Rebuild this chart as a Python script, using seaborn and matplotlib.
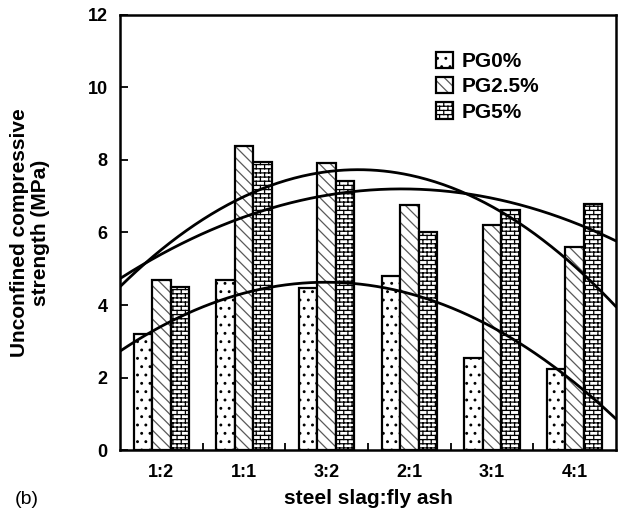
import warnings
import numpy as np
import pandas as pd
import matplotlib
matplotlib.use("Agg")
import matplotlib.pyplot as plt
import matplotlib.hatch as mhatch
from matplotlib.path import Path
from matplotlib.colors import to_rgba
import seaborn as sns

warnings.filterwarnings("ignore")

# ---------------- data ----------------
ratios = ["1:2", "1:1", "3:2", "2:1", "3:1", "4:1"]
series = ["PG0%", "PG2.5%", "PG5%"]
pg0 = [3.19, 4.70, 4.46, 4.81, 2.53, 2.24]
pg25 = [4.70, 8.39, 7.91, 6.76, 6.20, 5.60]
pg5 = [4.49, 7.95, 7.42, 6.01, 6.62, 6.78]
yticks = [0, 2, 4, 6, 8, 10, 12]

# ---------------- brick hatch ----------------
BRICK = "+|"
_orig_get_path = mhatch.get_path


def _brick_path(rows=24, cols=12):
    verts, codes = [], []
    h = 1.0 / rows
    for r in range(rows):
        y0 = (r + 0.5) * h
        verts += [(0.0, y0), (1.0, y0)]
        codes += [Path.MOVETO, Path.LINETO]
        off = 0.5 / cols if r % 2 else 0.0
        for c in range(cols):
            x = c / cols + off + 0.25 / cols
            y1 = y0 + h
            if y1 <= 1.0 + 1e-9:
                verts += [(x, y0), (x, y1)]
                codes += [Path.MOVETO, Path.LINETO]
            else:
                verts += [(x, y0), (x, 1.0), (x, 0.0), (x, y1 - 1.0)]
                codes += [Path.MOVETO, Path.LINETO, Path.MOVETO, Path.LINETO]
    return Path(np.array(verts), np.array(codes, dtype=Path.code_type))


def _get_path(hatchpattern, density=6):
    if hatchpattern == BRICK:
        return _brick_path()
    return _orig_get_path(hatchpattern, density)


mhatch.get_path = _get_path

# ---------------- style ----------------
sns.set_style("white")
plt.rcParams["font.family"] = ["Liberation Sans", "DejaVu Sans"]
plt.rcParams["font.weight"] = "bold"
plt.rcParams["axes.labelweight"] = "bold"
plt.rcParams["text.color"] = "black"
plt.rcParams["axes.labelcolor"] = "black"
plt.rcParams["xtick.color"] = "black"
plt.rcParams["ytick.color"] = "black"
plt.rcParams["hatch.linewidth"] = 0.9

df = pd.DataFrame({
    "ratio": ratios * 3,
    "series": np.repeat(series, len(ratios)),
    "ucs": pg0 + pg25 + pg5,
})

fig = plt.figure(figsize=(6.19, 5.24), dpi=100)
ax = fig.add_axes([0.1939, 0.1412, 0.8013, 0.8302])

sns.barplot(data=df, x="ratio", y="ucs", hue="series", order=ratios,
            hue_order=series, palette=["white"] * 3, saturation=1,
            width=0.67, errorbar=None, edgecolor="black", linewidth=1.6,
            ax=ax, legend=False)

hatches = ["..", "\\\\\\", BRICK]
hcolors = ["black", "0.35", "black"]
for cont, h, hc in zip(ax.containers, hatches, hcolors):
    for p in cont:
        p.set_hatch(h)
        if hasattr(p, "set_hatchcolor"):
            p.set_hatchcolor(hc)
        else:
            p._hatch_color = to_rgba(hc)

# quadratic trend curves fitted to each series
xpos = np.arange(len(ratios))
xs = np.linspace(-0.5, 5.5, 300)
for vals in (pg0, pg25, pg5):
    coef = np.polyfit(xpos, vals, 2)
    sns.lineplot(x=xs, y=np.polyval(coef, xs), color="black", lw=2.0,
                 ax=ax, estimator=None, sort=False)

ax.set_xlim(-0.5, 5.5)
ax.set_ylim(0, 12)
ax.set_yticks(yticks)
ax.set_yticklabels([str(t) for t in yticks])
ax.set_xticks(xpos)
ax.set_xticklabels(ratios)
ax.set_xticks(xpos[:-1] + 0.5, minor=True)
ax.tick_params(axis="x", which="major", length=0, pad=10, labelsize=13)
ax.tick_params(axis="x", which="minor", direction="in", length=5,
               width=1.3, bottom=True)
ax.tick_params(axis="y", direction="in", length=6, width=1.3, left=True,
               pad=9, labelsize=13)
for lab in ax.get_xticklabels() + ax.get_yticklabels():
    lab.set_fontweight("bold")
for s in ax.spines.values():
    s.set_linewidth(1.8)
    s.set_color("black")

ax.set_xlabel("steel slag:fly ash", fontsize=15, fontweight="bold", va="center")
ax.xaxis.set_label_coords(0.5, -0.112)
ax.set_ylabel("Unconfined compressive\nstrength (MPa)", fontsize=15,
              fontweight="bold", va="center", linespacing=1.1)
ax.yaxis.set_label_coords(-0.181, 0.5)

leg = ax.legend(ax.containers[:3], series, loc="upper left",
                bbox_to_anchor=(0.637, 0.915), frameon=False, fontsize=15,
                handlelength=0.82, handleheight=0.82, handletextpad=0.4,
                labelspacing=0.28, borderpad=0, borderaxespad=0)
for t in leg.get_texts():
    t.set_fontweight("bold")

fig.text(15 / 619, 1 - 500 / 524, "(b)", fontsize=14, fontweight="normal",
         va="center", ha="left")

fig.savefig("out.png", dpi=100)
